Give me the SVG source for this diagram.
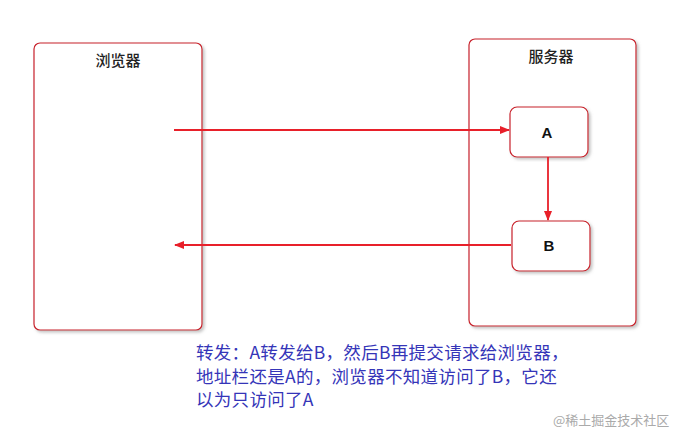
<svg xmlns="http://www.w3.org/2000/svg" width="697" height="443" viewBox="0 0 697 443">
<style>
.box{fill:#fff;stroke:#c8202a;stroke-width:1.2}
.cn{font-family:"Noto Sans CJK SC",sans-serif;font-size:15px;font-weight:500;fill:#222;text-anchor:middle}
.lt{font-family:"Liberation Sans",sans-serif;font-size:15px;font-weight:bold;fill:#111;text-anchor:middle}
.ln{stroke:#e8202a;stroke-width:1.8;fill:none}
.note{font-family:"Noto Sans CJK SC",sans-serif;font-size:17.5px;fill:#3535b8;letter-spacing:0.3px}
</style>
<defs>
<marker id="ar" markerWidth="10" markerHeight="8" refX="9" refY="4" orient="auto" markerUnits="userSpaceOnUse"><path d="M0,0 L10,4 L0,8 Z" fill="#e8202a"/></marker>
<filter id="sh"><feDropShadow dx="2" dy="2" stdDeviation="1.5" flood-color="#888" flood-opacity="0.5"/></filter>
</defs>
<g id="browser"><rect class="box" filter="url(#sh)" x="34" y="43" width="168" height="287" rx="6"/><text class="cn" x="118" y="66">浏览器</text></g>
<g id="server"><rect class="box" filter="url(#sh)" x="469" y="39" width="167" height="287" rx="6"/><text class="cn" x="551" y="62">服务器</text></g>
<g id="A"><rect class="box" filter="url(#sh)" x="510" y="107" width="78" height="50" rx="7"/><text class="lt" x="547" y="138">A</text></g>
<g id="B"><rect class="box" filter="url(#sh)" x="512" y="221" width="78" height="50" rx="7"/><text class="lt" x="549" y="251">B</text></g>
<g id="connectors">
<line class="ln" x1="174" y1="130" x2="509" y2="130" marker-end="url(#ar)"/>
<line class="ln" x1="548" y1="157" x2="548" y2="220" marker-end="url(#ar)"/>
<line class="ln" x1="511" y1="245" x2="175" y2="245" marker-end="url(#ar)"/>
</g>
<text class="note" x="196" y="359">转发：A转发给B，然后B再提交请求给浏览器，</text>
<text class="note" x="196" y="383">地址栏还是A的，浏览器不知道访问了B，它还</text>
<text class="note" x="196" y="406">以为只访问了A</text>
<text x="553" y="425" style="font-family:'Noto Sans CJK SC',sans-serif;font-size:13px;fill:#aaa">@稀土掘金技术社区</text>
</svg>
